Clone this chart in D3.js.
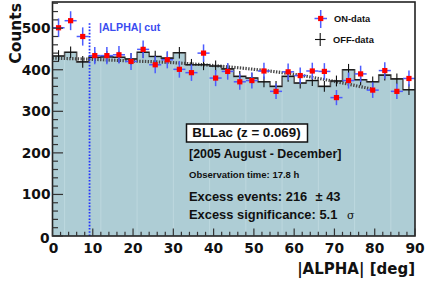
<!DOCTYPE html>
<html><head><meta charset="utf-8">
<script src="https://cdn.jsdelivr.net/npm/d3@7"></script>
<style>
html,body{margin:0;padding:0;background:#fff;}
svg{display:block;}
</style></head>
<body>
<svg id="c" width="436" height="282"></svg>
<script>
// ---- data ----
const binEdgesStart = 0, binWidth = 3; // |ALPHA| bins in degrees
const onCounts  = [501, 518, 480, 434, 434, 436, 420, 449, 412, 424, 401, 393, 440, 380, 396, 371, 374, 397, 348, 395, 386, 397, 396, 333, 374, 390, 351, 398, 348, 379];
const offCounts = [433, 442, 419, 430, 431, 430, 426, 442, 432, 428, 441, 412, 412, 409, 402, 384, 380, 371, 360, 384, 368, 374, 360, 373, 400, 376, 371, 387, 378, 352];
const offErrors = [14, 14, 14, 14, 14, 14, 14, 14, 14, 14, 14, 14, 13, 13, 13, 13, 13, 13, 13, 13, 13, 13, 13, 13, 14, 13, 13, 13, 13, 13];
const fitAlpha  = [0, 10, 20, 30, 40, 50, 60, 70, 80];
const fitCounts = [428, 425, 421, 417, 410, 401, 389, 372, 352];
const xTicks = [0, 10, 20, 30, 40, 50, 60, 70, 80, 90];
const yTicks = [0, 100, 200, 300, 400, 500];
const cutValue = 9.2;
const cutTop = 515;
const infoLines = ["[2005 August - December]", "Observation time: 17.8 h", "Excess events: 216", "Excess significance: 5.1"];

// ---- layout ----
const svg = d3.select("#c");
const L = 52.5, R = 415, T = 2, B = 236;
const x = d3.scaleLinear().domain([0, 90]).range([L, R]);
const y = d3.scaleLinear().domain([0, 563]).range([B, T]);
const HV = '"Liberation Sans", Arial, Helvetica, sans-serif';
const DJ = '"DejaVu Sans", sans-serif';

const bins = onCounts.map((v, i) => ({
  lo: binEdgesStart + i * binWidth, hi: binEdgesStart + (i + 1) * binWidth,
  c: binEdgesStart + (i + 0.5) * binWidth, on: v, off: offCounts[i], offErr: offErrors[i]
}));

// histogram fill (single step area)
const stepPts = [];
bins.forEach(d => { stepPts.push([d.lo, d.off]); stepPts.push([d.hi, d.off]); });
svg.append("path")
  .attr("d", d3.area().x(p => x(p[0])).y0(y(0)).y1(p => y(p[1]))(stepPts))
  .attr("fill", "#aecdd5");
// faint bin seams
svg.append("g").selectAll("line").data(bins.slice(1).filter((d, i) => i % 3 === 0)).join("line")
  .attr("x1", d => x(d.lo)).attr("x2", d => x(d.lo)).attr("y1", y(0)).attr("y2", d => y(Math.min(d.off, offCounts[bins.indexOf(d) - 1])))
  .attr("stroke", "#c2dbe1").attr("stroke-width", 0.8);

// histogram outline (top steps)
svg.append("path")
  .attr("d", d3.line().x(p => x(p[0])).y(p => y(p[1]))(stepPts))
  .attr("fill", "none").attr("stroke", "#5a5a5a").attr("stroke-width", 1.6);

// fit curve (dotted)
svg.append("path")
  .attr("d", d3.line().curve(d3.curveMonotoneX).x(a => x(a)).y((a, i) => y(fitCounts[i]))(fitAlpha))
  .attr("fill", "none").attr("stroke", "#474747").attr("stroke-width", 3.2).attr("stroke-dasharray", "1.4,1.4");

// OFF data crosses
const offG = svg.append("g").attr("stroke", "#111").attr("stroke-width", 1.1);
bins.forEach(d => {
  offG.append("line").attr("x1", x(d.lo)).attr("x2", x(d.hi)).attr("y1", y(d.off)).attr("y2", y(d.off));
  offG.append("line").attr("x1", x(d.c)).attr("x2", x(d.c)).attr("y1", y(d.off - d.offErr)).attr("y2", y(d.off + d.offErr));
});

// ON data points
const onG = svg.append("g");
bins.forEach(d => {
  const e = Math.sqrt(d.on);
  onG.append("line").attr("x1", x(d.lo)).attr("x2", x(d.hi)).attr("y1", y(d.on)).attr("y2", y(d.on))
    .attr("stroke", "#4d5cff").attr("stroke-width", 1.5);
  onG.append("line").attr("x1", x(d.c)).attr("x2", x(d.c)).attr("y1", y(d.on - e)).attr("y2", y(d.on + e))
    .attr("stroke", "#4d5cff").attr("stroke-width", 1.5);
  onG.append("rect").attr("x", x(d.c) - 2.6).attr("y", y(d.on) - 2.6).attr("width", 5.2).attr("height", 5.2)
    .attr("fill", "#ff0000");
});

// cut line
svg.append("line").attr("x1", x(cutValue)).attr("x2", x(cutValue)).attr("y1", y(0)).attr("y2", y(cutTop))
  .attr("stroke", "#2233ff").attr("stroke-width", 1.8).attr("stroke-dasharray", "1.6,1.6");
svg.append("text").attr("x", 99).attr("y", 30.5).text("|ALPHA| cut")
  .attr("font-family", HV).attr("font-weight", "bold").attr("font-size", 10.6).attr("fill", "#3a4cf0");

// frame
svg.append("rect").attr("x", L).attr("y", T).attr("width", R - L).attr("height", B - T)
  .attr("fill", "none").attr("stroke", "#222").attr("stroke-width", 1.6);

// y axis ticks
const yMinor = d3.range(0, 561, 20);
svg.append("g").selectAll("line").data(yMinor).join("line")
  .attr("x1", L).attr("x2", d => L + (d % 100 === 0 ? 10.5 : 5.5))
  .attr("y1", d => y(d)).attr("y2", d => y(d)).attr("stroke", "#333").attr("stroke-width", 1.2);
svg.append("g").selectAll("text").data(yTicks).join("text")
  .attr("x", d => d === 0 ? 49.5 : 50.5).attr("y", d => y(d) + (d === 0 ? 6.5 : 5))
  .attr("text-anchor", "end").text(d => d)
  .attr("font-family", DJ).attr("font-weight", "bold").attr("font-size", 13.8).attr("fill", "#111");

// x axis ticks
const xMinor = d3.range(0, 91, 2);
svg.append("g").selectAll("line").data(xMinor).join("line")
  .attr("x1", d => x(d)).attr("x2", d => x(d))
  .attr("y1", B).attr("y2", d => B - (d % 10 === 0 ? 7.5 : 4.2)).attr("stroke", "#333").attr("stroke-width", 1.2);
svg.append("g").selectAll("text").data(xTicks).join("text")
  .attr("x", d => x(d) + (d === 0 ? 1 : 0)).attr("y", 253)
  .attr("text-anchor", "middle").text(d => d)
  .attr("font-family", DJ).attr("font-weight", "bold").attr("font-size", 13.8).attr("fill", "#111");

// axis titles
svg.append("text").attr("x", R).attr("y", 274).attr("text-anchor", "end").text("|ALPHA| [deg]")
  .attr("font-family", DJ).attr("font-weight", "bold").attr("font-size", 15).attr("fill", "#111");
svg.append("text").attr("transform", "translate(20.5,3) rotate(-90)").attr("text-anchor", "end").text("Counts")
  .attr("font-family", DJ).attr("font-weight", "bold").attr("font-size", 15.5).attr("fill", "#111");

// legend
const lg = svg.append("g");
lg.append("line").attr("x1", 314.5).attr("x2", 327).attr("y1", 18.5).attr("y2", 18.5).attr("stroke", "#4d5cff").attr("stroke-width", 1.5);
lg.append("line").attr("x1", 320.7).attr("x2", 320.7).attr("y1", 10).attr("y2", 28).attr("stroke", "#4d5cff").attr("stroke-width", 1.5);
lg.append("rect").attr("x", 318.1).attr("y", 15.9).attr("width", 5.2).attr("height", 5.2).attr("fill", "#ff0000");
lg.append("text").attr("x", 334).attr("y", 22).text("ON-data")
  .attr("font-family", HV).attr("font-weight", "bold").attr("font-size", 9.3).attr("fill", "#111");
lg.append("line").attr("x1", 315).attr("x2", 325.5).attr("y1", 39.5).attr("y2", 39.5).attr("stroke", "#111").attr("stroke-width", 1.1);
lg.append("line").attr("x1", 320.2).attr("x2", 320.2).attr("y1", 33).attr("y2", 46).attr("stroke", "#111").attr("stroke-width", 1.1);
lg.append("text").attr("x", 333).attr("y", 43).text("OFF-data")
  .attr("font-family", HV).attr("font-weight", "bold").attr("font-size", 9.3).attr("fill", "#111");

// info box
svg.append("rect").attr("x", 186.5).attr("y", 124).attr("width", 121).attr("height", 18)
  .attr("fill", "#fff").attr("stroke", "#111").attr("stroke-width", 1.5);
svg.append("text").attr("x", 192.3).attr("y", 137).text("BLLac (z = 0.069)")
  .attr("font-family", HV).attr("font-weight", "bold").attr("font-size", 13.3).attr("fill", "#111");
const infoY = [158.3, 178.3, 200.7, 218.5];
const infoSize = [12.4, 9.5, 12.9, 12.9];
infoLines.forEach((t, i) => {
  svg.append("text").attr("x", 189).attr("y", infoY[i]).text(t)
    .attr("font-family", HV).attr("font-weight", "bold").attr("font-size", infoSize[i]).attr("fill", "#111");
});
svg.append("text").attr("x", 315.5).attr("y", 200.7).text("± 43")
  .attr("font-family", HV).attr("font-weight", "bold").attr("font-size", 12.9).attr("fill", "#111");
svg.append("text").attr("x", 347).attr("y", 218.5).text("σ")
  .attr("font-family", '"DejaVu Serif", serif').attr("font-size", 11).attr("fill", "#111");
</script>
</body></html>
